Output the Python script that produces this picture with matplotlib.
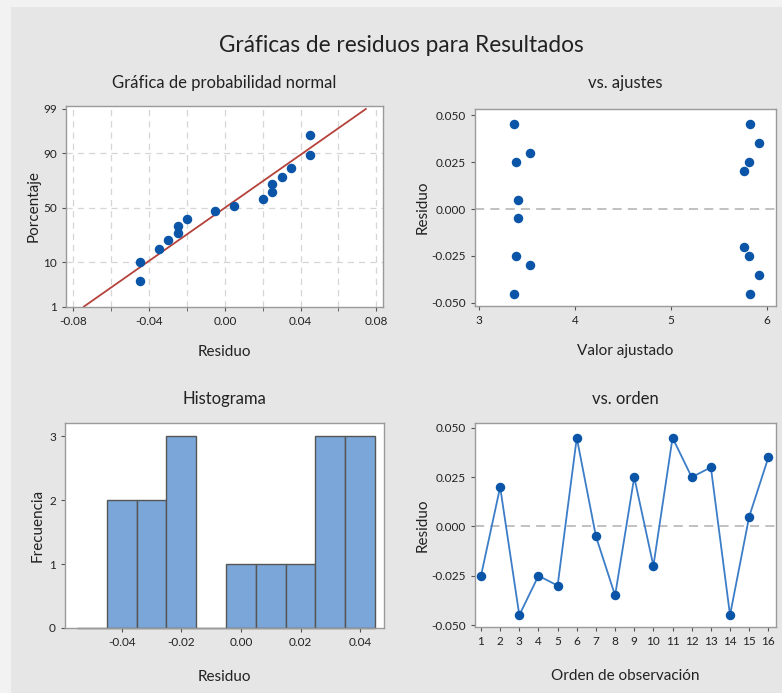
import matplotlib
matplotlib.use('Agg')
import matplotlib.pyplot as plt
from matplotlib.patches import Rectangle
from statistics import NormalDist

# Residuals in observation order
orden = list(range(1, 17))
residuos = [-0.025, 0.020, -0.045, -0.025, -0.030, 0.045, -0.005, -0.035,
            0.025, -0.020, 0.045, 0.025, 0.030, -0.045, 0.005, 0.035]

# Normal probability plot (sorted residuals vs. percent)
prob_x = [-0.045, -0.045, -0.035, -0.030, -0.025, -0.025, -0.020, -0.005,
          0.005, 0.020, 0.025, 0.025, 0.030, 0.035, 0.045, 0.045]
prob_pct = [4.2, 10.2, 16.3, 22.4, 27.8, 33.8, 40.0, 46.8,
            51.8, 58.4, 64.8, 71.2, 76.6, 82.8, 89.4, 95.6]
ajuste_mu = 0.0
ajuste_sigma = 0.032
pct_ticks = [1, 10, 50, 90, 99]

# Residuals vs fitted values
ajustado = [3.36, 3.385, 3.53, 3.40, 3.40, 3.385, 3.53, 3.36,
            5.83, 5.92, 5.81, 5.76, 5.76, 5.81, 5.92, 5.83]
ajustado_res = [0.045, 0.025, 0.030, 0.005, -0.005, -0.025, -0.030, -0.045,
                0.045, 0.035, 0.025, 0.020, -0.020, -0.025, -0.035, -0.045]

# Histogram bins (centers) and counts
hist_centros = [-0.05, -0.04, -0.03, -0.02, -0.01, 0.00, 0.01, 0.02, 0.03, 0.04]
hist_frec = [0, 2, 2, 3, 0, 1, 1, 1, 3, 3]

plt.rcParams['font.family'] = ['Lato', 'DejaVu Sans']

AZUL = '#0A55A8'
LINEA = '#3C7DC8'
ROJO = '#B5423B'
GRIS = '#9a9a9a'
REJILLA = '#d6d6d6'
TXT = '#222222'

fig = plt.figure(figsize=(7.82, 6.93), dpi=100)
fig.patch.set_facecolor('#f2f2f2')
fig.patches.append(Rectangle((11 / 782, 0), 1, 1 - 7 / 693, transform=fig.transFigure,
                             facecolor='#e6e6e6', edgecolor='none', zorder=-10))

fig.text(401 / 782, 1 - 46 / 693, 'Gráficas de residuos para Resultados',
         ha='center', va='center', fontsize=16.3, color=TXT)


def estilo(ax):
    ax.set_facecolor('white')
    for s in ax.spines.values():
        s.set_color(GRIS)
        s.set_linewidth(1.0)
    ax.tick_params(axis='both', colors='#555555', labelcolor=TXT,
                   labelsize=8.5, length=3, width=0.8)


def nz(p):
    return NormalDist().inv_cdf(p / 100.0)


# --- Normal probability plot
ax1 = fig.add_axes([66 / 782, 1 - 307 / 693, 317 / 782, 201 / 693])
estilo(ax1)
ax1.set_xlim(-0.0839, 0.0835)
ax1.set_ylim(nz(1) - 0.01, nz(99) + 0.07)
for xv in [-0.08, -0.06, -0.04, -0.02, 0.0, 0.02, 0.04, 0.06, 0.08]:
    ax1.axvline(xv, color=REJILLA, linestyle=(0, (5, 4)), linewidth=0.9, zorder=0)
for p in [10, 50, 90]:
    ax1.axhline(nz(p), color=REJILLA, linestyle=(0, (5, 4)), linewidth=0.9, zorder=0)
x0 = ajuste_mu + ajuste_sigma * nz(1)
x1 = ajuste_mu + ajuste_sigma * nz(99)
ax1.plot([x0, x1], [nz(1), nz(99)], color=ROJO, linewidth=1.3, zorder=2)
ax1.scatter(prob_x, [nz(p) for p in prob_pct], s=34, color=AZUL, zorder=3)
ax1.set_xticks([-0.08, -0.04, 0.0, 0.04, 0.08])
ax1.set_xticklabels(['-0.08', '-0.04', '0.00', '0.04', '0.08'])
ax1.set_xticks([-0.06, -0.02, 0.02, 0.06], minor=True)
ax1.tick_params(axis='x', which='minor', length=3, colors='#555555')
ax1.set_yticks([nz(p) for p in pct_ticks])
ax1.set_yticklabels([str(p) for p in pct_ticks])
ax1.set_title('Gráfica de probabilidad normal', fontsize=12, pad=13, color=TXT)
ax1.set_xlabel('Residuo', fontsize=11, labelpad=13, color=TXT)
ax1.set_ylabel('Porcentaje', fontsize=11, labelpad=2, color=TXT)

# --- Residuals vs fits
ax2 = fig.add_axes([475 / 782, 1 - 306 / 693, 301 / 782, 197 / 693])
estilo(ax2)
ax2.set_xlim(2.955, 6.097)
ax2.set_ylim(-0.0516, 0.0532)
ax2.axhline(0, color='#b0b0b0', linestyle=(0, (6, 4)), linewidth=1.1, zorder=0)
ax2.scatter(ajustado, ajustado_res, s=34, color=AZUL, zorder=3)
ax2.set_xticks([3, 4, 5, 6])
ax2.set_yticks([-0.05, -0.025, 0, 0.025, 0.05])
ax2.set_yticklabels(['-0.050', '-0.025', '0.000', '0.025', '0.050'])
ax2.set_title('vs. ajustes', fontsize=12, pad=15, color=TXT)
ax2.set_xlabel('Valor ajustado', fontsize=11, labelpad=13, color=TXT)
ax2.set_ylabel('Residuo', fontsize=11, labelpad=1, color=TXT)

# --- Histogram
ax3 = fig.add_axes([65 / 782, 1 - 628 / 693, 319 / 782, 205 / 693])
estilo(ax3)
ax3.set_xlim(-0.059, 0.048)
ax3.set_ylim(0, 3.21)
ax3.bar(hist_centros, hist_frec, width=0.01, color='#7BA6DA',
        edgecolor='#555555', linewidth=1.0, zorder=2, clip_on=False)
ax3.set_xticks([-0.04, -0.02, 0.0, 0.02, 0.04])
ax3.set_xticklabels(['-0.04', '-0.02', '0.00', '0.02', '0.04'])
ax3.set_yticks([0, 1, 2, 3])
ax3.set_title('Histograma', fontsize=12, pad=14, color=TXT)
ax3.set_xlabel('Residuo', fontsize=11, labelpad=16, color=TXT)
ax3.set_ylabel('Frecuencia', fontsize=11, labelpad=3, color=TXT)

# --- Residuals vs order
ax4 = fig.add_axes([475 / 782, 1 - 627 / 693, 301 / 782, 204 / 693])
estilo(ax4)
ax4.set_xlim(0.687, 16.4)
ax4.set_ylim(-0.051, 0.0525)
ax4.axhline(0, color='#b0b0b0', linestyle=(0, (6, 4)), linewidth=1.1, zorder=0)
ax4.plot(orden, residuos, color=LINEA, linewidth=1.3, zorder=2)
ax4.scatter(orden, residuos, s=34, color=AZUL, zorder=3)
ax4.set_xticks(orden)
ax4.set_yticks([-0.05, -0.025, 0, 0.025, 0.05])
ax4.set_yticklabels(['-0.050', '-0.025', '0.000', '0.025', '0.050'])
ax4.set_title('vs. orden', fontsize=12, pad=14, color=TXT)
ax4.set_xlabel('Orden de observación', fontsize=11, labelpad=16, color=TXT)
ax4.set_ylabel('Residuo', fontsize=11, labelpad=1, color=TXT)

fig.savefig('out.png', dpi=100, facecolor=fig.get_facecolor())
